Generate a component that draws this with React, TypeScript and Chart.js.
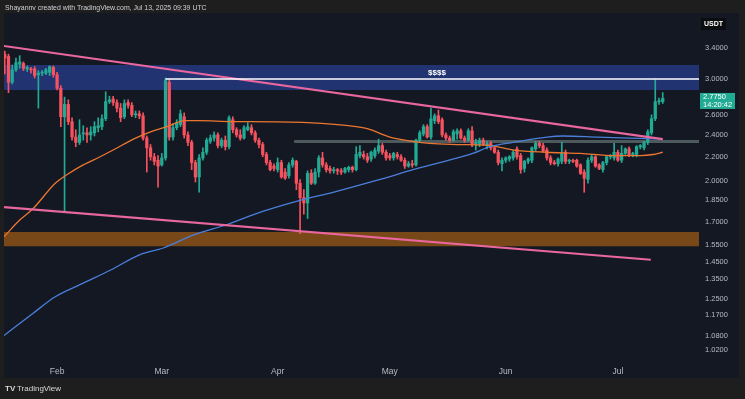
import React, { useEffect, useRef } from "react";
import { Chart, registerables } from "chart.js";

Chart.register(...registerables);

// Daily XRP/USDT candles, index 0 = 2025-01-18
const FIRST_DAY = "2025-01-18";
const opens = [
  3.31, 3.28, 2.96, 3.11, 3.18, 3.19, 3.12, 3.12, 3.12, 3.05, 3.07, 3.07, 3.08, 3.14, 3.05, 2.89, 2.58, 2.71, 2.53, 2.38,
  2.33, 2.41, 2.42, 2.40, 2.42, 2.47, 2.48, 2.56, 2.74, 2.77, 2.73, 2.67, 2.58, 2.73, 2.70, 2.60, 2.61, 2.59, 2.37, 2.28,
  2.20, 2.17, 2.13, 2.19, 2.96, 2.38, 2.47, 2.50, 2.58, 2.40, 2.33, 2.15, 2.03, 2.19, 2.24, 2.34, 2.37, 2.40, 2.30, 2.35,
  2.29, 2.55, 2.45, 2.40, 2.37, 2.45, 2.47, 2.42, 2.35, 2.31, 2.22, 2.15, 2.12, 2.09, 2.15, 2.07, 2.04, 2.13, 2.16, 1.98,
  1.87, 1.83, 2.06, 1.98, 2.07, 2.19, 2.13, 2.10, 2.08, 2.09, 2.08, 2.07, 2.09, 2.11, 2.09, 2.21, 2.22, 2.20, 2.18, 2.21,
  2.25, 2.30, 2.24, 2.21, 2.19, 2.22, 2.20, 2.17, 2.12, 2.14, 2.13, 2.35, 2.41, 2.48, 2.38, 2.54, 2.59, 2.55, 2.40, 2.37,
  2.35, 2.41, 2.44, 2.37, 2.35, 2.44, 2.31, 2.31, 2.35, 2.30, 2.32, 2.28, 2.24, 2.14, 2.17, 2.18, 2.19, 2.27, 2.21, 2.10,
  2.16, 2.17, 2.27, 2.32, 2.30, 2.26, 2.19, 2.15, 2.14, 2.16, 2.24, 2.16, 2.17, 2.17, 2.13, 2.07, 2.01, 2.17, 2.20, 2.13,
  2.09, 2.15, 2.20, 2.19, 2.24, 2.17, 2.23, 2.27, 2.22, 2.22, 2.29, 2.28, 2.33, 2.42, 2.56, 2.74, 2.74,
];
const highs = [
  3.35, 3.31, 3.17, 3.26, 3.29, 3.21, 3.16, 3.14, 3.15, 3.10, 3.10, 3.13, 3.16, 3.16, 3.08, 2.92, 2.79, 2.76, 2.57, 2.45,
  2.55, 2.49, 2.47, 2.48, 2.53, 2.57, 2.60, 2.85, 2.80, 2.80, 2.76, 2.72, 2.76, 2.76, 2.73, 2.64, 2.64, 2.62, 2.39, 2.31,
  2.23, 2.21, 2.23, 3.01, 2.99, 2.51, 2.55, 2.65, 2.62, 2.43, 2.35, 2.17, 2.22, 2.28, 2.37, 2.40, 2.43, 2.42, 2.37, 2.39,
  2.59, 2.58, 2.47, 2.45, 2.49, 2.52, 2.50, 2.44, 2.37, 2.33, 2.24, 2.17, 2.14, 2.19, 2.17, 2.10, 2.15, 2.19, 2.17, 2.01,
  1.93, 2.08, 2.09, 2.10, 2.21, 2.24, 2.15, 2.12, 2.11, 2.10, 2.10, 2.11, 2.12, 2.12, 2.29, 2.30, 2.25, 2.23, 2.25, 2.28,
  2.36, 2.32, 2.26, 2.23, 2.24, 2.24, 2.22, 2.19, 2.16, 2.17, 2.36, 2.44, 2.50, 2.50, 2.67, 2.61, 2.65, 2.57, 2.42, 2.39,
  2.45, 2.46, 2.46, 2.39, 2.46, 2.48, 2.36, 2.37, 2.37, 2.34, 2.34, 2.30, 2.26, 2.19, 2.20, 2.21, 2.26, 2.29, 2.23, 2.17,
  2.19, 2.29, 2.34, 2.34, 2.32, 2.28, 2.21, 2.17, 2.19, 2.33, 2.26, 2.18, 2.18, 2.18, 2.14, 2.09, 2.19, 2.22, 2.21, 2.14,
  2.16, 2.21, 2.22, 2.32, 2.26, 2.30, 2.28, 2.29, 2.24, 2.30, 2.31, 2.34, 2.45, 2.60, 2.99, 2.78, 2.84,
];
const lows = [
  3.06, 2.84, 2.94, 3.09, 3.13, 3.10, 3.09, 3.07, 3.01, 2.67, 3.04, 3.05, 3.04, 3.02, 2.87, 2.48, 1.77, 2.50, 2.35, 2.29,
  2.31, 2.35, 2.33, 2.35, 2.39, 2.43, 2.45, 2.54, 2.72, 2.70, 2.63, 2.53, 2.56, 2.67, 2.58, 2.57, 2.56, 2.35, 2.07, 2.17,
  2.13, 1.95, 2.12, 2.17, 2.35, 2.35, 2.45, 2.48, 2.37, 2.30, 2.09, 1.99, 1.91, 2.17, 2.22, 2.32, 2.34, 2.28, 2.28, 2.26,
  2.27, 2.42, 2.38, 2.35, 2.36, 2.44, 2.40, 2.33, 2.28, 2.20, 2.13, 2.08, 2.08, 2.07, 2.02, 2.01, 2.02, 2.11, 1.93, 1.62,
  1.75, 1.72, 1.97, 1.97, 2.03, 2.11, 2.07, 2.06, 2.06, 2.05, 2.05, 2.06, 2.07, 2.07, 2.08, 2.19, 2.18, 2.15, 2.16, 2.19,
  2.23, 2.22, 2.17, 2.17, 2.17, 2.18, 2.16, 2.10, 2.11, 2.11, 2.12, 2.33, 2.39, 2.37, 2.36, 2.51, 2.51, 2.38, 2.35, 2.33,
  2.34, 2.36, 2.36, 2.33, 2.34, 2.29, 2.26, 2.29, 2.30, 2.27, 2.26, 2.23, 2.13, 2.08, 2.15, 2.16, 2.17, 2.18, 2.06, 2.07,
  2.14, 2.15, 2.25, 2.28, 2.24, 2.17, 2.13, 2.13, 2.12, 2.14, 2.14, 2.14, 2.15, 2.11, 2.05, 1.91, 1.98, 2.15, 2.11, 2.09,
  2.07, 2.13, 2.18, 2.17, 2.16, 2.15, 2.22, 2.20, 2.20, 2.20, 2.27, 2.26, 2.31, 2.40, 2.54, 2.71, 2.72,
];
const closes = [
  3.26, 2.96, 3.11, 3.20, 3.21, 3.13, 3.14, 3.11, 3.04, 3.07, 3.08, 3.11, 3.15, 3.05, 2.89, 2.58, 2.71, 2.53, 2.38, 2.33,
  2.40, 2.42, 2.40, 2.43, 2.48, 2.49, 2.56, 2.74, 2.76, 2.73, 2.67, 2.57, 2.72, 2.70, 2.60, 2.61, 2.59, 2.37, 2.28, 2.20,
  2.16, 2.12, 2.19, 2.98, 2.38, 2.47, 2.52, 2.61, 2.40, 2.33, 2.15, 2.03, 2.19, 2.24, 2.35, 2.37, 2.40, 2.30, 2.35, 2.29,
  2.57, 2.45, 2.40, 2.37, 2.47, 2.48, 2.42, 2.35, 2.31, 2.22, 2.15, 2.09, 2.10, 2.15, 2.03, 2.02, 2.13, 2.17, 1.98, 1.87,
  1.83, 2.06, 1.98, 2.07, 2.19, 2.13, 2.09, 2.08, 2.09, 2.08, 2.07, 2.10, 2.11, 2.09, 2.22, 2.24, 2.20, 2.17, 2.24, 2.26,
  2.30, 2.24, 2.19, 2.19, 2.23, 2.20, 2.17, 2.12, 2.14, 2.13, 2.35, 2.42, 2.48, 2.38, 2.56, 2.59, 2.53, 2.40, 2.37, 2.35,
  2.43, 2.44, 2.37, 2.35, 2.44, 2.31, 2.33, 2.35, 2.31, 2.32, 2.28, 2.24, 2.15, 2.17, 2.19, 2.20, 2.24, 2.20, 2.09, 2.16,
  2.18, 2.28, 2.32, 2.30, 2.25, 2.19, 2.15, 2.14, 2.18, 2.23, 2.16, 2.17, 2.16, 2.12, 2.06, 2.02, 2.17, 2.20, 2.12, 2.10,
  2.15, 2.20, 2.21, 2.24, 2.17, 2.23, 2.27, 2.22, 2.23, 2.29, 2.30, 2.33, 2.43, 2.56, 2.74, 2.75, 2.775,
];

// Time axis
const monthTickIdx = [14, 42, 73, 103, 134, 164];
const monthTickLabels = ["Feb", "Mar", "Apr", "May", "Jun", "Jul"];
const X_MIN = -0.2;
const X_MAX = 185.7;

// Price axis (log)
const priceTicks = [3.4, 3.0, 2.6, 2.4, 2.2, 2.0, 1.85, 1.7, 1.55, 1.45, 1.35, 1.25, 1.17, 1.08, 1.02];
const Y_MIN = 0.964;
const Y_MAX = 3.9;

// Moving averages
const maOrangeIdx = [-0.2, 4, 7.6, 13.5, 16.7, 21, 25.5, 29, 34.4, 39, 43.4, 48.2, 52, 61, 65.6, 81, 94, 97, 103, 109, 113.7, 121, 130, 136, 145, 154, 163, 170, 173.4, 176];
const maOrangeVal = [1.6, 1.71, 1.79, 1.98, 2.05, 2.13, 2.2, 2.26, 2.36, 2.43, 2.48, 2.54, 2.54, 2.53, 2.53, 2.52, 2.48, 2.46, 2.38, 2.34, 2.32, 2.31, 2.3, 2.26, 2.24, 2.23, 2.21, 2.21, 2.22, 2.24];
const maBlueIdx = [-0.2, 7.6, 13.5, 21, 28.2, 36.2, 42.4, 50.4, 59.5, 69, 79, 87.8, 100.4, 109.2, 116.4, 125.2, 129.8, 136, 145, 149.3, 158.4, 167.2, 176];
const maBlueVal = [1.08, 1.18, 1.26, 1.33, 1.4, 1.49, 1.53, 1.61, 1.68, 1.77, 1.85, 1.91, 2.01, 2.09, 2.15, 2.23, 2.29, 2.33, 2.38, 2.39, 2.38, 2.37, 2.36];

// Drawings
const upperTrendIdx = [-0.2, 176];
const upperTrendVal = [3.42, 2.36];
const lowerTrendIdx = [-0.2, 172.8];
const lowerTrendVal = [1.8, 1.46];
const supplyZone = [2.87, 3.17];
const demandZone = [1.54, 1.63];
const resistanceLevel = 3.0;
const resistanceStartIdx = 43;
const pivotLevel = 2.337;
const pivotStartIdx = 77.4;
const resistanceLabel = "$$$$";
const resistanceLabelIdx = 115.6;
const resistanceLabelPrice = 3.07;

const headerText = "Shayannv created with TradingView.com, Jul 13, 2025 09:39 UTC";
const countdownText = "14:20:42";
const currencyText = "USDT";

const UP = "#22ab94";
const DOWN = "#f7525f";
const FONT = '"Liberation Sans", Arial, sans-serif';

export default function App() {
  const ref = useRef<HTMLCanvasElement>(null);

  useEffect(() => {
    const canvas = ref.current;
    if (!canvas) return;
    Chart.defaults.font.family = FONT;

    const ids = closes.map((_, i) => i);
    const colors = ids.map((i) => (closes[i] >= opens[i] ? UP : DOWN));
    const bodies = ids.map((i) => ({ x: i, y: [Math.min(opens[i], closes[i]), Math.max(opens[i], closes[i])] }));
    const wicks = ids.map((i) => ({ x: i, y: [lows[i], highs[i]] }));
    const pts = (xs: number[], ys: number[]) => xs.map((x, i) => ({ x, y: ys[i] }));

    const bgPlugin = {
      id: "bg",
      beforeDraw(chart: any) {
        const ctx = chart.ctx;
        ctx.save();
        ctx.fillStyle = "#1e1e1f";
        ctx.fillRect(0, 0, 745, 399);
        ctx.fillStyle = "#141822";
        ctx.fillRect(4, 13, 735, 365);
        ctx.restore();
      },
    };

    const overlayPlugin = {
      id: "overlay",
      afterDraw(chart: any) {
        const ctx = chart.ctx;
        const xs = chart.scales.x;
        const ys = chart.scales.y;
        ctx.save();
        // $$$$ label
        ctx.fillStyle = "#ffffff";
        ctx.font = `bold 8px ${FONT}`;
        ctx.textAlign = "center";
        ctx.textBaseline = "middle";
        ctx.fillText(resistanceLabel, xs.getPixelForValue(resistanceLabelIdx), ys.getPixelForValue(resistanceLabelPrice));

        // header
        ctx.font = `10px ${FONT}`;
        const w10 = ctx.measureText(headerText).width;
        const size = (10 * 202) / w10;
        ctx.font = `${size}px ${FONT}`;
        ctx.textAlign = "left";
        ctx.fillStyle = "#cfd1d6";
        ctx.fillText(headerText, 5, 8);

        // footer
        ctx.fillStyle = "#d9d9d9";
        ctx.font = `bold 8px ${FONT}`;
        ctx.fillText("TV", 5, 389);
        ctx.font = `8px ${FONT}`;
        ctx.fillText("TradingView", 17, 389);

        // currency box
        ctx.fillStyle = "#0c0d10";
        ctx.fillRect(701, 18, 25, 12);
        ctx.fillStyle = "#ffffff";
        ctx.font = `bold 7px ${FONT}`;
        ctx.textAlign = "center";
        ctx.fillText(currencyText, 713.5, 24.5);

        // last price badge
        const last = closes[closes.length - 1];
        const py = ys.getPixelForValue(last);
        ctx.fillStyle = UP;
        ctx.fillRect(700, py - 5.5, 35, 16);
        ctx.fillStyle = "#ffffff";
        ctx.font = `7.5px ${FONT}`;
        ctx.textAlign = "left";
        ctx.fillText(last.toFixed(4), 703, py - 1.8);
        ctx.fillText(countdownText, 703, py + 6.4);
        ctx.restore();
      },
    };

    const chart = new Chart(canvas, {
      type: "line",
      data: {
        datasets: [
          {
            type: "line",
            data: pts([upperTrendIdx[0] - 1, X_MAX + 5], [supplyZone[1], supplyZone[1]]),
            fill: { value: supplyZone[0] },
            backgroundColor: "#223372",
            borderWidth: 0,
            pointRadius: 0,
            order: 30,
          },
          {
            type: "line",
            data: pts([upperTrendIdx[0] - 1, X_MAX + 5], [demandZone[1], demandZone[1]]),
            fill: { value: demandZone[0] },
            backgroundColor: "#794819",
            borderWidth: 0,
            pointRadius: 0,
            order: 29,
          },
          {
            type: "line",
            data: pts([pivotStartIdx, X_MAX + 5], [pivotLevel, pivotLevel]),
            borderColor: "#4d5a5d",
            borderWidth: 3,
            pointRadius: 0,
            fill: false,
            order: 28,
          },
          {
            type: "bar",
            data: wicks as any,
            backgroundColor: colors,
            barThickness: 1,
            grouped: false,
            order: 20,
          } as any,
          {
            type: "bar",
            data: bodies as any,
            backgroundColor: colors,
            barThickness: 2.6,
            minBarLength: 1,
            grouped: false,
            order: 19,
          } as any,
          {
            type: "line",
            data: pts(maOrangeIdx, maOrangeVal),
            borderColor: "#ec7630",
            borderWidth: 1.3,
            pointRadius: 0,
            cubicInterpolationMode: "monotone",
            fill: false,
            order: 12,
          },
          {
            type: "line",
            data: pts(maBlueIdx, maBlueVal),
            borderColor: "#4a7fdc",
            borderWidth: 1.3,
            pointRadius: 0,
            cubicInterpolationMode: "monotone",
            fill: false,
            order: 11,
          },
          {
            type: "line",
            data: pts(upperTrendIdx, upperTrendVal),
            borderColor: "#e8679f",
            borderWidth: 2.2,
            pointRadius: 0,
            fill: false,
            order: 6,
          },
          {
            type: "line",
            data: pts(lowerTrendIdx, lowerTrendVal),
            borderColor: "#e8679f",
            borderWidth: 2.2,
            pointRadius: 0,
            fill: false,
            order: 5,
          },
          {
            type: "line",
            data: pts([resistanceStartIdx, X_MAX + 5], [resistanceLevel, resistanceLevel]),
            borderColor: "#ffffff",
            borderWidth: 1.5,
            pointRadius: 0,
            fill: false,
            order: 4,
          },
        ] as any,
      },
      options: {
        animation: false,
        responsive: false,
        devicePixelRatio: 1,
        events: [],
        layout: { padding: { left: 4, top: 13, right: 6, bottom: 21 } },
        plugins: { legend: { display: false }, tooltip: { enabled: false } },
        scales: {
          x: {
            type: "linear",
            min: X_MIN,
            max: X_MAX,
            offset: false,
            grid: { display: false, drawTicks: false },
            border: { display: false },
            afterBuildTicks: (scale: any) => {
              scale.ticks = monthTickIdx.map((v) => ({ value: v }));
            },
            afterFit: (scale: any) => {
              scale.height = 14;
            },
            ticks: {
              autoSkip: false,
              maxRotation: 0,
              padding: 3,
              color: "#b8bbc3",
              font: { size: 8.5, family: FONT },
              callback: (_v: any, i: number) => monthTickLabels[i],
            },
          },
          y: {
            type: "logarithmic",
            position: "right",
            min: Y_MIN,
            max: Y_MAX,
            grid: { display: false, drawTicks: false },
            border: { display: false },
            afterBuildTicks: (scale: any) => {
              scale.ticks = priceTicks.map((v) => ({ value: v }));
            },
            afterFit: (scale: any) => {
              scale.width = 40;
            },
            ticks: {
              autoSkip: false,
              padding: 6,
              crossAlign: "near",
              color: "#b8bbc3",
              font: { size: 7.5, family: FONT },
              callback: (v: any) => Number(v).toFixed(4),
            },
          },
        },
      } as any,
      plugins: [bgPlugin, overlayPlugin],
    });
    return () => chart.destroy();
  }, []);

  return (
    <div style={{ position: "fixed", left: 0, top: 0, width: 745, height: 399 }} data-first-day={FIRST_DAY}>
      <canvas ref={ref} width={745} height={399} style={{ display: "block", width: 745, height: 399 }} />
    </div>
  );
}
